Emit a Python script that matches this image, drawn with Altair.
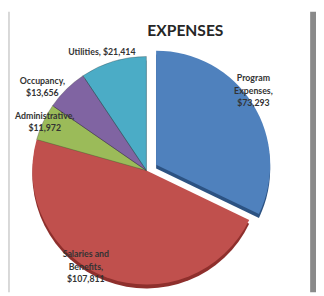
import altair as alt
import pandas as pd

categories = ["Program Expenses", "Salaries and Benefits", "Administrative", "Occupancy", "Utilities"]
values = [73293, 107811, 11972, 13656, 21414]
labels = ["Program\nExpenses,\n$73,293", "Salaries and\nBenefits,\n$107,811",
          "Administrative,\n$11,972", "Occupancy,\n$13,656", "Utilities, $21,414"]
colors = ["#4F81BD", "#C0504D", "#9BBB59", "#8064A2", "#4BACC6"]
dark_colors = ["#2C5282", "#8E2F2C", "#6B8A33", "#553F78", "#2A7F97"]

df = pd.DataFrame({"category": categories, "value": values, "label": labels,
                   "order": list(range(len(categories)))})
df["side"] = df["category"]

CX, CY = -16, 19   # pie centre offset from the view centre
R = 117

theta = alt.Theta("value:Q", stack=True)
order = alt.Order("order:Q")
color = alt.Color("category:N", scale=alt.Scale(domain=categories, range=colors), legend=None)
dcolor = alt.Color("side:N", scale=alt.Scale(domain=categories, range=dark_colors), legend=None)

base = alt.Chart(df)

is_prog = alt.datum.category == "Program Expenses"

def pie_layer(dx, dy, col, prog):
    op = alt.condition(is_prog, alt.value(1 if prog else 0), alt.value(0 if prog else 1))
    return base.mark_arc(radius=R, xOffset=CX + dx, yOffset=CY + dy,
                         stroke=None).encode(theta=theta, order=order, color=col, opacity=op)

depth = 4
layers = [
    pie_layer(0, depth, dcolor, False),
    pie_layer(0, 0, color, False),
    pie_layer(10, -6 + depth, dcolor, True),
    pie_layer(10, -6, color, True),
]

# thin dark separators between the small slices
layers.append(base.mark_arc(radius=R, xOffset=CX, yOffset=CY, fillOpacity=0,
                            stroke="#333333", strokeWidth=0.6, strokeOpacity=0.5).encode(
    theta=theta, order=order,
    opacity=alt.condition(alt.FieldOneOfPredicate(field="category", oneOf=["Administrative", "Occupancy", "Utilities"]),
                          alt.value(1), alt.value(0))))

label_cfg = {
    "Program Expenses": dict(r=138, dx=-7, dy=-21),
    "Salaries and Benefits": dict(r=105, dx=-25, dy=-12),
    "Administrative": dict(r=112, dx=-3, dy=-8),
    "Occupancy": dict(r=125, dx=-19, dy=-3),
    "Utilities": dict(r=123, dx=-10, dy=-4),
}
for cat, c in label_cfg.items():
    layers.append(base.mark_text(radius=c["r"], xOffset=CX + c["dx"], yOffset=CY + c["dy"],
                                 font="Lato", fontSize=9, fontWeight="bold", color="#333333",
                                 lineBreak="\n", lineHeight=12.5, align="center", baseline="middle").encode(
        theta=theta, order=order,
        text=alt.condition(alt.datum.category == cat, "label:N", alt.value(""))))

frame = alt.Chart(pd.DataFrame({"k": [0]})).mark_rect(color="#8a8a8a").encode(
    x=alt.value(310), x2=alt.value(316), y=alt.value(0), y2=alt.value(288))
left = alt.Chart(pd.DataFrame({"k": [0]})).mark_rect(color="#d8d8d8").encode(
    x=alt.value(0), x2=alt.value(2), y=alt.value(0), y2=alt.value(288))

chart = alt.layer(frame, left, *layers).resolve_scale(color="independent").properties(
    width=316, height=288, padding=0,
    autosize=alt.AutoSizeParams(type="none"),
    background="white",
    title=alt.TitleParams("EXPENSES", font="Lato", fontSize=16, fontWeight="bold",
                          color="#262626", offset=-28, dx=24, anchor="middle"),
).configure_view(stroke=None)

chart.save("out.html", embed_options={"renderer": "svg", "actions": False})
